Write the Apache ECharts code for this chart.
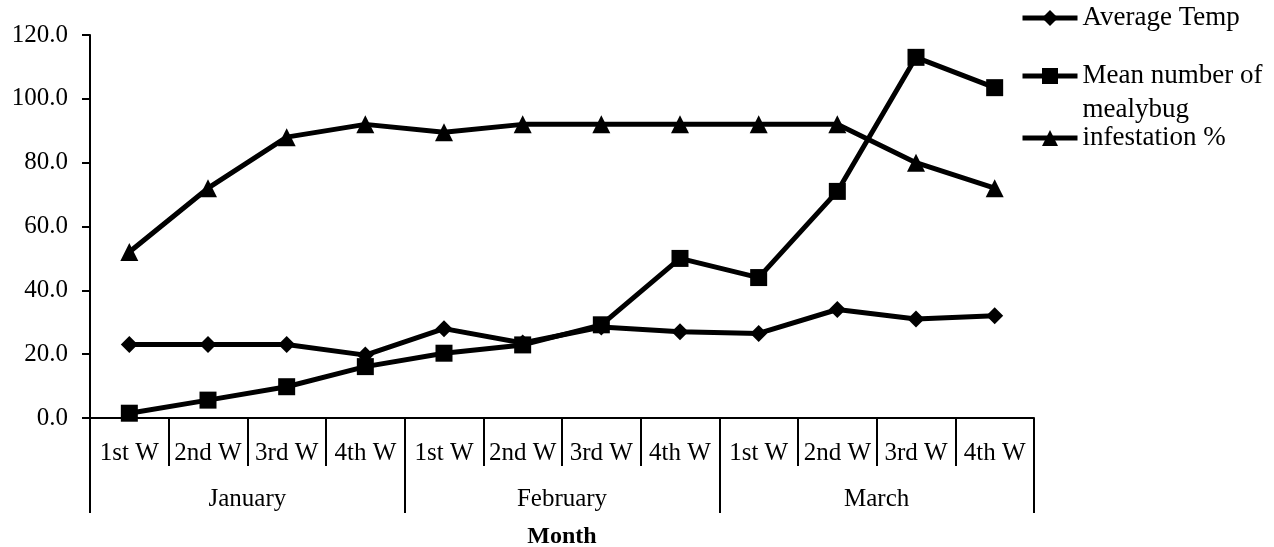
<!DOCTYPE html>
<html>
<head>
<meta charset="utf-8">
<script src="https://cdn.jsdelivr.net/npm/echarts@6/dist/echarts.min.js"></script>
<style>
  html, body { margin: 0; padding: 0; background: #fff; }
  #chartDiv { width: 1274px; height: 547px; }
</style>
</head>
<body>
<div id="chartDiv"></div>
<script>
// 数据
const weeks = ["1st W", "2nd W", "3rd W", "4th W", "1st W", "2nd W", "3rd W", "4th W", "1st W", "2nd W", "3rd W", "4th W"];
const months = ["January", "February", "March"];
const avgTemp = [23, 23, 23, 19.7, 28, 23.5, 28.5, 27, 26.5, 34, 31, 32];
const mealybug = [1.5, 5.6, 9.8, 16.1, 20.3, 22.9, 29.2, 50, 44, 71, 113, 103.5];
const infestation = [52, 72, 88, 92, 89.5, 92, 92, 92, 92, 92, 80, 72];
const yTicks = [0, 120, 20]; // min, max, interval

const font = "Liberation Serif";
let chart = echarts.init(document.getElementById("chartDiv"));

// 图例公共样式
const legendBase = {
    left: 1020,
    padding: 0,
    itemWidth: 55,
    itemHeight: 20,
    itemGap: 5,
    lineStyle: { width: 5, color: "#000" },
    textStyle: { fontFamily: font, fontSize: 27, color: "#000", lineHeight: 30 },
};

chart.setOption({
    animation: false,
    textStyle: { fontFamily: font, color: "#000" },
    grid: { left: 90, right: 240, top: 35, bottom: 129, outerBoundsMode: "none", containLabel: false },
    legend: [
        Object.assign({}, legendBase, { data: ["Average Temp"], top: 3 }),
        Object.assign({}, legendBase, {
            data: ["Mean number of mealybug"],
            top: 25,
            // 前面空一行，让图标对齐第一行文字
            formatter: function () { return "\nMean number of\nmealybug"; },
            textStyle: { fontFamily: font, fontSize: 27, color: "#000", lineHeight: 34 },
        }),
        Object.assign({}, legendBase, { data: ["infestation %"], top: 123 }),
    ],
    xAxis: [
        {
            type: "category",
            data: weeks,
            position: "bottom",
            axisLine: { show: true, lineStyle: { color: "#000", width: 2 } },
            axisTick: { show: true, length: 48, interval: 0, lineStyle: { color: "#000", width: 2 } },
            axisLabel: { interval: 0, fontSize: 25, color: "#000", margin: 23, fontFamily: font },
        },
        {
            type: "category",
            data: months,
            position: "bottom",
            axisLine: { show: false },
            axisTick: { show: true, length: 95, interval: 0, lineStyle: { color: "#000", width: 2 } },
            axisLabel: { interval: 0, fontSize: 25, color: "#000", margin: 69, fontFamily: font },
            name: "Month",
            nameLocation: "middle",
            nameGap: 107,
            nameTextStyle: { fontSize: 24, fontWeight: "bold", color: "#000", fontFamily: font },
        },
    ],
    yAxis: {
        type: "value",
        min: yTicks[0],
        max: yTicks[1],
        interval: yTicks[2],
        axisLine: { show: true, lineStyle: { color: "#000", width: 2 } },
        axisTick: { show: true, length: 8, lineStyle: { color: "#000", width: 2 } },
        splitLine: { show: false },
        axisLabel: {
            fontSize: 25, color: "#000", margin: 22, fontFamily: font,
            formatter: function (v) { return v.toFixed(1); },
        },
    },
    series: [
        {
            name: "Average Temp",
            type: "line",
            data: avgTemp,
            symbol: "diamond",
            symbolSize: 17,
            lineStyle: { color: "#000", width: 5 },
            itemStyle: { color: "#000" },
        },
        {
            name: "Mean number of mealybug",
            type: "line",
            data: mealybug,
            symbol: "rect",
            symbolSize: 17,
            lineStyle: { color: "#000", width: 5 },
            itemStyle: { color: "#000" },
        },
        {
            name: "infestation %",
            type: "line",
            data: infestation,
            symbol: "triangle",
            symbolSize: 18,
            lineStyle: { color: "#000", width: 5 },
            itemStyle: { color: "#000" },
        },
    ],
});

window.onresize = function () {
    chart.resize();
};
</script>
</body>
</html>
